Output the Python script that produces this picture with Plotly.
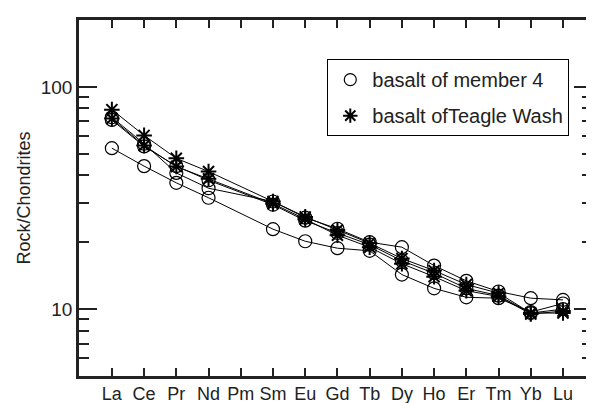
import plotly.graph_objects as go

elements = ["La", "Ce", "Pr", "Nd", "Pm", "Sm", "Eu", "Gd", "Tb", "Dy", "Ho", "Er", "Tm", "Yb", "Lu"]

# basalt of member 4 (open circles)
member4_a = [73, 55.5, 41, 35, None, 30.5, 25.8, 23, 20, 19.0, 15.7, 13.4, 12.0, 11.2, 11.0]
member4_b = [71, 54, 44, 38, None, 29.5, 25.0, 22, 19.5, 16.5, 14.5, 12.4, 11.5, 9.6, 10.0]
member4_c = [53, 44, 37, 31.7, None, 22.9, 20.2, 18.8, 18.3, 14.3, 12.4, 11.3, 11.2, 9.7, 10.6]

# basalt of Teagle Wash (asterisks)
teagle_a = [79, 60.5, 47.7, 41.6, None, 30.5, 26.0, 22.7, 19.8, 16.9, 14.9, 12.9, 11.8, 9.6, 9.6]
teagle_b = [72, 54.5, 43.8, 38.6, None, 29.8, 25.4, 21.5, 19.0, 16.0, 14.0, 12.1, 11.4, 9.5, 9.8]

y_major = [10, 100]
y_minor = [6, 7, 8, 9, 20, 30, 40, 50, 60, 70, 80, 90]

FONT = "Liberation Sans, Arial, Helvetica, sans-serif"

fig = go.Figure()

for ys in [member4_a, member4_b, member4_c]:
    fig.add_trace(go.Scatter(
        x=elements, y=ys, mode="lines+markers", connectgaps=True,
        line=dict(color="black", width=1),
        marker=dict(symbol="circle-open", size=13, color="black", line=dict(width=1.2)),
        showlegend=False))

for ys in [teagle_a, teagle_b]:
    fig.add_trace(go.Scatter(
        x=elements, y=ys, mode="lines+markers", connectgaps=True,
        line=dict(color="black", width=1),
        marker=dict(symbol="asterisk-open", size=13, color="black", line=dict(width=2, color="black")),
        showlegend=False))

# legend-only entries
fig.add_trace(go.Scatter(
    x=[None], y=[None], mode="markers", name="basalt of member 4", legendgroup="a",
    marker=dict(symbol="circle-open", size=12, color="black", line=dict(width=1.2))))
fig.add_trace(go.Scatter(
    x=[None], y=[None], mode="markers", name="basalt ofTeagle Wash", legendgroup="b",
    marker=dict(symbol="asterisk-open", size=12, color="black", line=dict(width=2, color="black"))))

fig.update_layout(
    width=594, height=403,
    margin=dict(l=71, r=7, t=12, b=29),
    paper_bgcolor="white", plot_bgcolor="white",
    font=dict(family=FONT, size=18, color="#222"),
    legend=dict(
        x=0.484, y=0.89, xanchor="left", yanchor="top",
        bordercolor="black", borderwidth=1, bgcolor="white",
        font=dict(size=20, family=FONT, color="#222"),
        tracegroupgap=7, itemwidth=34,
    ),
    xaxis=dict(
        type="category", categoryorder="array", categoryarray=elements,
        range=[-1.02, 14.9],
        showline=True, linecolor="#222", linewidth=2.5, mirror="ticks",
        ticks="inside", ticklen=8, tickwidth=2, tickcolor="#222",
        showgrid=False, zeroline=False,
        tickfont=dict(size=18),
    ),
    yaxis=dict(
        type="log", range=[0.69897, 2.30103],
        tickvals=y_major, ticktext=["10", "100"],
        showline=True, linecolor="#222", linewidth=2.5, mirror="ticks",
        ticks="inside", ticklen=18, tickwidth=2, tickcolor="#222",
        minor=dict(tickvals=y_minor, ticks="inside", ticklen=10, tickwidth=2, tickcolor="#222", showgrid=False),
        showgrid=False, zeroline=False,
        tickfont=dict(size=19),
        title=dict(text="Rock/Chondrites", font=dict(size=18), standoff=6),
    ),
)

fig.write_html("out.html")
